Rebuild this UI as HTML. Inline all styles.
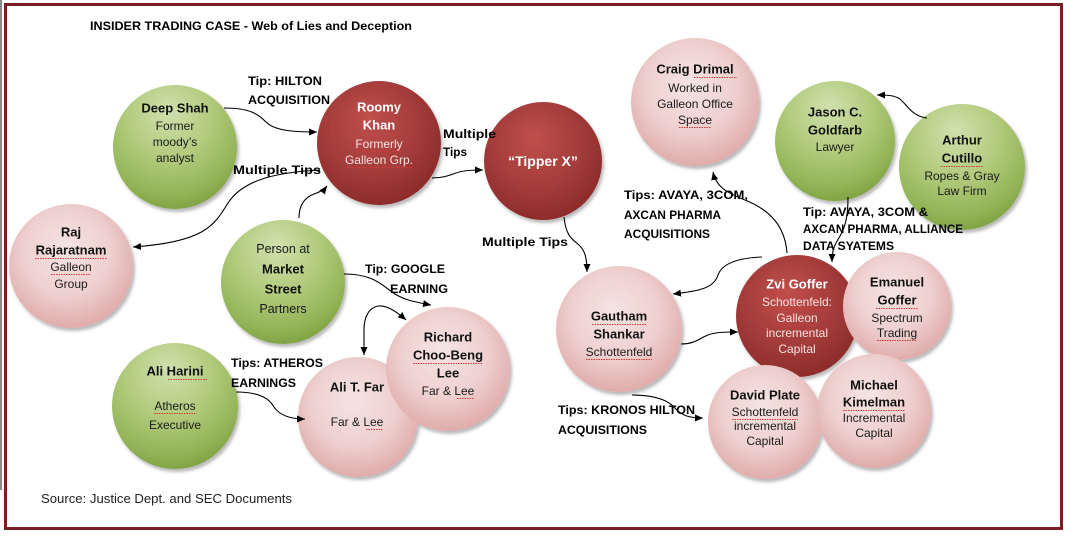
<!DOCTYPE html>
<html><head><meta charset="utf-8"><style>
html,body{margin:0;padding:0;background:#fff;}
body{width:1071px;height:536px;overflow:hidden;position:relative;}
svg{position:absolute;left:0;top:0;}
text{font-family:"Liberation Sans",Arial,sans-serif;}
.n{font-weight:bold;font-size:13px;fill:#111;}
.b{font-size:12px;fill:#1a1a1a;}
.nw{font-weight:bold;font-size:13px;fill:#fff;}
.bw{font-size:12px;fill:#f6e2e1;}
.l{font-weight:bold;font-size:12px;fill:#000;}
</style></head><body>
<svg width="1071" height="536" viewBox="0 0 1071 536" xmlns="http://www.w3.org/2000/svg">
<defs>
<radialGradient id="gr" cx="0.45" cy="0.3" r="0.75" fx="0.45" fy="0.2">
<stop offset="0" stop-color="#d0e1af"/><stop offset="0.45" stop-color="#b2cb7d"/><stop offset="0.8" stop-color="#93b457"/><stop offset="1" stop-color="#7b9d3e"/>
</radialGradient>
<radialGradient id="pk" cx="0.48" cy="0.42" r="0.7" fx="0.45" fy="0.35">
<stop offset="0" stop-color="#f5e4e3"/><stop offset="0.5" stop-color="#eed0cf"/><stop offset="0.85" stop-color="#dfabaa"/><stop offset="1" stop-color="#cf9392"/>
</radialGradient>
<radialGradient id="dr" cx="0.45" cy="0.4" r="0.7" fx="0.42" fy="0.3">
<stop offset="0" stop-color="#c04f4c"/><stop offset="0.55" stop-color="#a33c3a"/><stop offset="1" stop-color="#842625"/>
</radialGradient>
<filter id="sh" x="-20%" y="-20%" width="150%" height="150%">
<feDropShadow dx="2" dy="3" stdDeviation="1.5" flood-color="#000" flood-opacity="0.28"/>
</filter>
<marker id="ah" markerUnits="userSpaceOnUse" markerWidth="9" markerHeight="8" refX="8" refY="4" orient="auto-start-reverse">
<path d="M0,0.5 L8,4 L0,7.5 z" fill="#000"/>
</marker>
</defs>

<rect x="0" y="0" width="2" height="490" fill="#8a8a8a"/>
<rect x="5.5" y="4.5" width="1056" height="524" fill="none" stroke="#7a1e23" stroke-width="3"/>

<text x="90" y="26" class="l" dominant-baseline="central" textLength="322" lengthAdjust="spacingAndGlyphs">INSIDER TRADING CASE -  Web of Lies and Deception</text>

<g filter="url(#sh)">
<circle cx="175" cy="147" r="62" fill="url(#gr)"/>
<circle cx="379" cy="143" r="62" fill="url(#dr)"/>
<circle cx="543" cy="161" r="59" fill="url(#dr)"/>
<circle cx="695" cy="102" r="64" fill="url(#pk)"/>
<circle cx="835" cy="141" r="60" fill="url(#gr)"/>
<circle cx="962" cy="167" r="63" fill="url(#gr)"/>
<circle cx="71" cy="266" r="62" fill="url(#pk)"/>
<circle cx="283" cy="282" r="62" fill="url(#gr)"/>
<circle cx="175" cy="406" r="63" fill="url(#gr)"/>
<circle cx="358" cy="417" r="60" fill="url(#pk)"/>
<circle cx="448" cy="369" r="62" fill="url(#pk)"/>
<circle cx="619" cy="329" r="63" fill="url(#pk)"/>
<circle cx="797" cy="316" r="61" fill="url(#dr)"/>
<circle cx="897" cy="306" r="54" fill="url(#pk)"/>
<circle cx="765" cy="422" r="57" fill="url(#pk)"/>
<circle cx="874" cy="411" r="57" fill="url(#pk)"/>
</g>

<g text-anchor="middle" dominant-baseline="central">
<text x="175" y="108" class="n">Deep Shah</text>
<text x="175" y="126" class="b">Former</text>
<text x="175" y="142" class="b">moody’s</text>
<text x="175" y="158" class="b">analyst</text>

<text x="379" y="107" class="nw">Roomy</text>
<text x="379" y="125" class="nw">Khan</text>
<text x="379" y="144" class="bw">Formerly</text>
<text x="379" y="160" class="bw">Galleon Grp.</text>

<text x="543" y="161" class="nw" style="font-size:14px">“Tipper X”</text>

<text x="695" y="69" class="n">Craig Drimal</text>
<text x="695" y="88" class="b">Worked in</text>
<text x="695" y="104" class="b">Galleon Office</text>
<text x="695" y="120" class="b">Space</text>

<text x="835" y="112" class="n">Jason C.</text>
<text x="835" y="130" class="n">Goldfarb</text>
<text x="835" y="147" class="b">Lawyer</text>

<text x="962" y="140" class="n">Arthur</text>
<text x="962" y="158" class="n">Cutillo</text>
<text x="962" y="176" class="b">Ropes &amp; Gray</text>
<text x="962" y="191" class="b">Law Firm</text>

<text x="71" y="232" class="n">Raj</text>
<text x="71" y="250" class="n">Rajaratnam</text>
<text x="71" y="267" class="b">Galleon</text>
<text x="71" y="284" class="b">Group</text>

<text x="283" y="249" class="b" style="font-size:12.5px">Person at</text>
<text x="283" y="269" class="n">Market</text>
<text x="283" y="289" class="n">Street</text>
<text x="283" y="309" class="b" style="font-size:12.5px">Partners</text>

<text x="175" y="371" class="n">Ali Harini</text>
<text x="175" y="406" class="b">Atheros</text>
<text x="175" y="425" class="b">Executive</text>

<text x="357" y="387" class="n">Ali T. Far</text>
<text x="357" y="422" class="b">Far &amp; Lee</text>

<text x="448" y="337" class="n">Richard</text>
<text x="448" y="355" class="n">Choo-Beng</text>
<text x="448" y="373" class="n">Lee</text>
<text x="448" y="391" class="b">Far &amp; Lee</text>

<text x="619" y="316" class="n">Gautham</text>
<text x="619" y="334" class="n">Shankar</text>
<text x="619" y="352" class="b">Schottenfeld</text>

<text x="797" y="284" class="nw">Zvi Goffer</text>
<text x="797" y="302" class="bw">Schottenfeld:</text>
<text x="797" y="318" class="bw">Galleon</text>
<text x="797" y="333" class="bw">incremental</text>
<text x="797" y="349" class="bw">Capital</text>

<text x="897" y="282" class="n">Emanuel</text>
<text x="897" y="300" class="n">Goffer</text>
<text x="897" y="318" class="b">Spectrum</text>
<text x="897" y="333" class="b">Trading</text>

<text x="765" y="395" class="n">David Plate</text>
<text x="765" y="412" class="b">Schottenfeld</text>
<text x="765" y="426" class="b">incremental</text>
<text x="765" y="441" class="b">Capital</text>

<text x="874" y="385" class="n">Michael</text>
<text x="874" y="402" class="n">Kimelman</text>
<text x="874" y="418" class="b">Incremental</text>
<text x="874" y="433" class="b">Capital</text>
</g>

<g fill="none" stroke="#d23a3a" stroke-width="0.9" stroke-dasharray="1.5 1">
<path d="M357,151.5 H401"/>
<path d="M346,167.5 H412"/>
<path d="M35,258.5 H107"/>
<path d="M51,274.5 H91"/>
<path d="M694,77.5 H737"/>
<path d="M679,127.5 H711"/>
<path d="M941,166.5 H983"/>
<path d="M168,379.5 H207"/>
<path d="M154,413.5 H196"/>
<path d="M413,363.5 H483"/>
<path d="M457,398.5 H474"/>
<path d="M366,429.5 H383"/>
<path d="M592,324.5 H646"/>
<path d="M586,359.5 H652"/>
<path d="M763,292.5 H784"/>
<path d="M763,309.5 H831"/>
<path d="M777,325.5 H817"/>
<path d="M876,308.5 H918"/>
<path d="M877,340.5 H917"/>
<path d="M843,410.5 H905"/>
<path d="M732,419.5 H798"/>
</g>

<g fill="none" stroke="#000" stroke-width="1.1">
<path d="M224,108 C250,108 258,114 266,122 C274,130 290,132 317,132" marker-end="url(#ah)"/>
<path d="M320,170 C282,172 244,178 228,203 C214,226 204,242 133,247" marker-end="url(#ah)"/>
<path d="M299,218 C299,204 306,197 314,194 C320,192 324,190 327,186" marker-end="url(#ah)"/>
<path d="M432,178 C448,178 455,172 464,171 C470,170 476,170 483,170" marker-end="url(#ah)"/>
<path d="M564,217 C566,238 574,240 580,246 C586,252 587,262 587,272" marker-end="url(#ah)"/>
<path d="M787,253 C785,226 770,210 745,200 C725,192 716,186 713,172" marker-end="url(#ah)"/>
<path d="M762,257 C736,258 722,264 718,275 C714,288 700,291 673,294" marker-end="url(#ah)"/>
<path d="M681,344 C695,344 700,338 708,335 C716,332 725,332 738,332" marker-end="url(#ah)"/>
<path d="M848,197 C848,214 846,226 840,236 C834,246 832,250 832,262" marker-end="url(#ah)"/>
<path d="M927,118 C912,116 908,106 900,99 C894,95 886,95 877,95" marker-end="url(#ah)"/>
<path d="M344,274 C372,274 381,284 392,292 C403,300 415,302 431,305" marker-end="url(#ah)"/>
<path d="M406,320 C396,311 386,305 378,306 C368,308 364,318 364,330 L364,355" marker-start="url(#ah)" marker-end="url(#ah)"/>
<path d="M236,392 C262,392 270,400 274,407 C280,416 292,419 305,419" marker-end="url(#ah)"/>
<path d="M632,395 C655,395 668,400 675,408 C682,416 690,418 703,418" marker-end="url(#ah)"/>
</g>

<g dominant-baseline="central">
<text x="248" y="81" class="l" textLength="74" lengthAdjust="spacingAndGlyphs">Tip: HILTON</text>
<text x="248" y="100" class="l" textLength="82" lengthAdjust="spacingAndGlyphs">ACQUISITION</text>
<text x="233" y="170" class="l" textLength="88" lengthAdjust="spacingAndGlyphs">Multiple Tips</text>
<text x="443" y="134" class="l" textLength="53" lengthAdjust="spacingAndGlyphs">Multiple</text>
<text x="443" y="152" class="l" textLength="24" lengthAdjust="spacingAndGlyphs">Tips</text>
<text x="482" y="242" class="l" textLength="86" lengthAdjust="spacingAndGlyphs">Multiple Tips</text>
<text x="624" y="195" class="l" textLength="124" lengthAdjust="spacingAndGlyphs">Tips:  AVAYA, 3COM,</text>
<text x="624" y="215" class="l" textLength="97" lengthAdjust="spacingAndGlyphs">AXCAN PHARMA</text>
<text x="624" y="234" class="l" textLength="86" lengthAdjust="spacingAndGlyphs">ACQUISITIONS</text>
<text x="803" y="212" class="l" textLength="125" lengthAdjust="spacingAndGlyphs">Tip:  AVAYA, 3COM &amp;</text>
<text x="803" y="229" class="l" textLength="160" lengthAdjust="spacingAndGlyphs">AXCAN PHARMA, ALLIANCE</text>
<text x="803" y="246" class="l" textLength="91" lengthAdjust="spacingAndGlyphs">DATA SYATEMS</text>
<text x="365" y="269" class="l" textLength="80" lengthAdjust="spacingAndGlyphs">Tip: GOOGLE</text>
<text x="390" y="289" class="l" textLength="58" lengthAdjust="spacingAndGlyphs">EARNING</text>
<text x="231" y="363" class="l" textLength="92" lengthAdjust="spacingAndGlyphs">Tips: ATHEROS</text>
<text x="231" y="383" class="l" textLength="65" lengthAdjust="spacingAndGlyphs">EARNINGS</text>
<text x="558" y="410" class="l" textLength="137" lengthAdjust="spacingAndGlyphs">Tips: KRONOS HILTON</text>
<text x="558" y="430" class="l" textLength="89" lengthAdjust="spacingAndGlyphs">ACQUISITIONS</text>
<text x="41" y="499" textLength="251" lengthAdjust="spacingAndGlyphs" style="font-size:12.5px;fill:#222">Source: Justice Dept. and SEC Documents</text>
</g>
</svg>
</body></html>
